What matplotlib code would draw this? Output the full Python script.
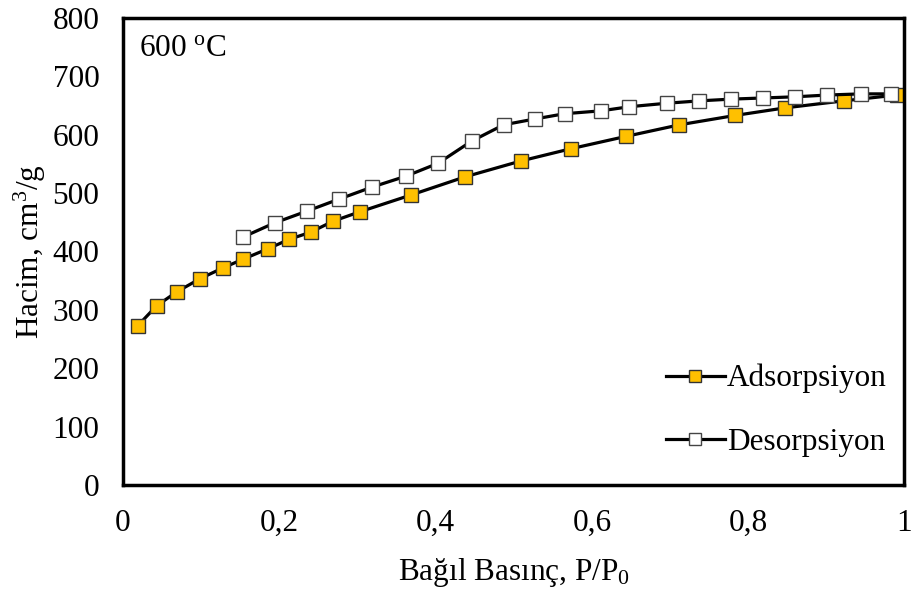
import matplotlib
matplotlib.use("Agg")
import matplotlib.pyplot as plt

plt.rcParams["font.family"] = ["Liberation Serif", "DejaVu Serif"]
plt.rcParams["mathtext.fontset"] = "custom"
plt.rcParams["mathtext.rm"] = "Liberation Serif"
plt.rcParams["mathtext.it"] = "Liberation Serif:italic"

# Adsorpsiyon
ads_x = [0.019, 0.043, 0.069, 0.098, 0.128, 0.154, 0.186, 0.213, 0.240, 0.269, 0.303,
         0.369, 0.438, 0.509, 0.573, 0.643, 0.712, 0.783, 0.847, 0.922, 0.99]
ads_y = [273, 307, 331, 353, 372, 387, 405, 421, 433, 452, 468,
         497, 528, 555, 576, 597, 617, 633, 646, 658, 668]

# Desorpsiyon
des_x = [0.154, 0.194, 0.235, 0.277, 0.318, 0.362, 0.403, 0.446, 0.487, 0.527, 0.565,
         0.612, 0.648, 0.696, 0.737, 0.778, 0.819, 0.860, 0.901, 0.944, 0.983]
des_y = [425, 449, 469, 490, 510, 529, 551, 589, 617, 627, 636,
         641, 648, 654, 658, 661, 663, 665, 668, 670, 670]

x_ticks = [0, 0.2, 0.4, 0.6, 0.8, 1]
x_labels = ["0", "0,2", "0,4", "0,6", "0,8", "1"]
y_ticks = [0, 100, 200, 300, 400, 500, 600, 700, 800]

fs = 22.5

fig = plt.figure(figsize=(9.14, 5.90), dpi=100)
ax = fig.add_axes([0.1346, 0.178, 0.855, 0.7915])

ax.plot(ads_x, ads_y, color="black", lw=2.3, marker="s", ms=9.5,
        mfc="#FFC000", mec="#333333", mew=1.0, label="Adsorpsiyon")
ax.plot(des_x, des_y, color="black", lw=2.3, marker="s", ms=9.5,
        mfc="white", mec="#444444", mew=1.0, label="Desorpsiyon")

ax.set_xlim(0, 1)
ax.set_ylim(0, 800)
ax.set_xticks(x_ticks)
ax.set_xticklabels(x_labels)
ax.set_yticks(y_ticks)
ax.tick_params(axis="y", length=0, labelsize=fs, pad=17)
ax.tick_params(axis="x", length=0, labelsize=fs, pad=17)
for s in ax.spines.values():
    s.set_linewidth(2.5)

ax.set_xlabel("Bağıl Basınç, P/P$_0$", fontsize=fs, labelpad=13)
ax.set_ylabel("Hacim, cm$^3$/g", fontsize=fs, labelpad=3)
ax.text(0.02, 0.965, "600 $^{\\mathrm{o}}$C", transform=ax.transAxes,
        fontsize=fs, va="top", ha="left")

ax.legend(loc="lower right", bbox_to_anchor=(1.013, 0.0), frameon=False,
          fontsize=fs, handlelength=1.9, handletextpad=0.05, labelspacing=1.1,
          markerscale=0.9)

fig.savefig("out.png", dpi=100)
